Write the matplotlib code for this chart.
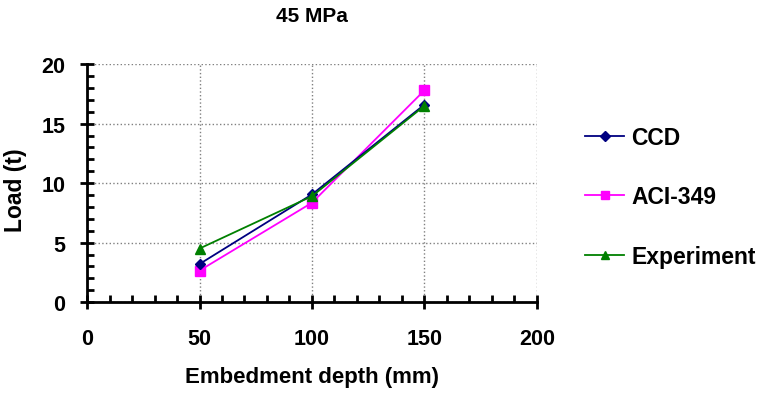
import matplotlib
matplotlib.use("Agg")
import matplotlib.pyplot as plt
from matplotlib.ticker import MultipleLocator

plt.rcParams['font.family'] = ['Liberation Sans', 'DejaVu Sans']

depth = [50, 100, 150]
ccd = [3.2, 9.05, 16.6]
aci = [2.65, 8.35, 17.8]
experiment = [4.5, 8.9, 16.5]

fig = plt.figure(figsize=(7.6, 4.02), dpi=100)
ax = fig.add_axes([0.1145, 0.246, 0.592, 0.592])

ax.plot(depth, ccd, color='#000080', marker='D', markersize=5.5, lw=1.3, label='CCD', zorder=4)
ax.plot(depth, aci, color='#ff00ff', marker='s', markersize=6.5, lw=1.3, label='ACI-349', zorder=3)
ax.plot(depth, experiment, color='#008000', marker='^', markersize=7.5, lw=1.3, label='Experiment', zorder=5)

ax.set_xlim(0, 200)
ax.set_ylim(0, 20)
ax.xaxis.set_major_locator(MultipleLocator(50))
ax.xaxis.set_minor_locator(MultipleLocator(10))
ax.yaxis.set_major_locator(MultipleLocator(5))
ax.yaxis.set_minor_locator(MultipleLocator(1))

# dotted grey grid, no top/right spines
ax.grid(True, which='major', color='#808080', linestyle=':', lw=1.0)
ax.spines['top'].set_visible(False)
ax.spines['right'].set_visible(False)
for s in ['left', 'bottom']:
    ax.spines[s].set_linewidth(2)

ax.tick_params(which='major', direction='inout', length=9.5, width=2, labelsize=15.5)
ax.tick_params(axis='x', which='major', pad=14)
ax.tick_params(axis='y', which='major', pad=11)
ax.tick_params(which='minor', direction='in', length=5, width=2)
for lab in ax.get_xticklabels() + ax.get_yticklabels():
    lab.set_fontweight('bold')

ax.set_xlabel('Embedment depth (mm)', fontsize=16, fontweight='bold')
ax.xaxis.label.set_va('center')
ax.xaxis.set_label_coords(0.5, -0.311)
ax.set_ylabel('Load (t)', fontsize=16.5, fontweight='bold')
ax.yaxis.label.set_va('center')
ax.yaxis.set_label_coords(-0.158, 0.475)

fig.text(0.41, 0.96, '45 MPa', ha='center', va='center', fontsize=15, fontweight='bold')

leg = ax.legend(loc='center left', bbox_to_anchor=(0.758, 0.508), bbox_transform=fig.transFigure,
                borderaxespad=0, frameon=False,
                prop={'weight': 'bold', 'size': 16.5}, labelspacing=1.6,
                handlelength=1.7, handletextpad=0.3, markerscale=0.85)

fig.savefig('out.png', dpi=100)
